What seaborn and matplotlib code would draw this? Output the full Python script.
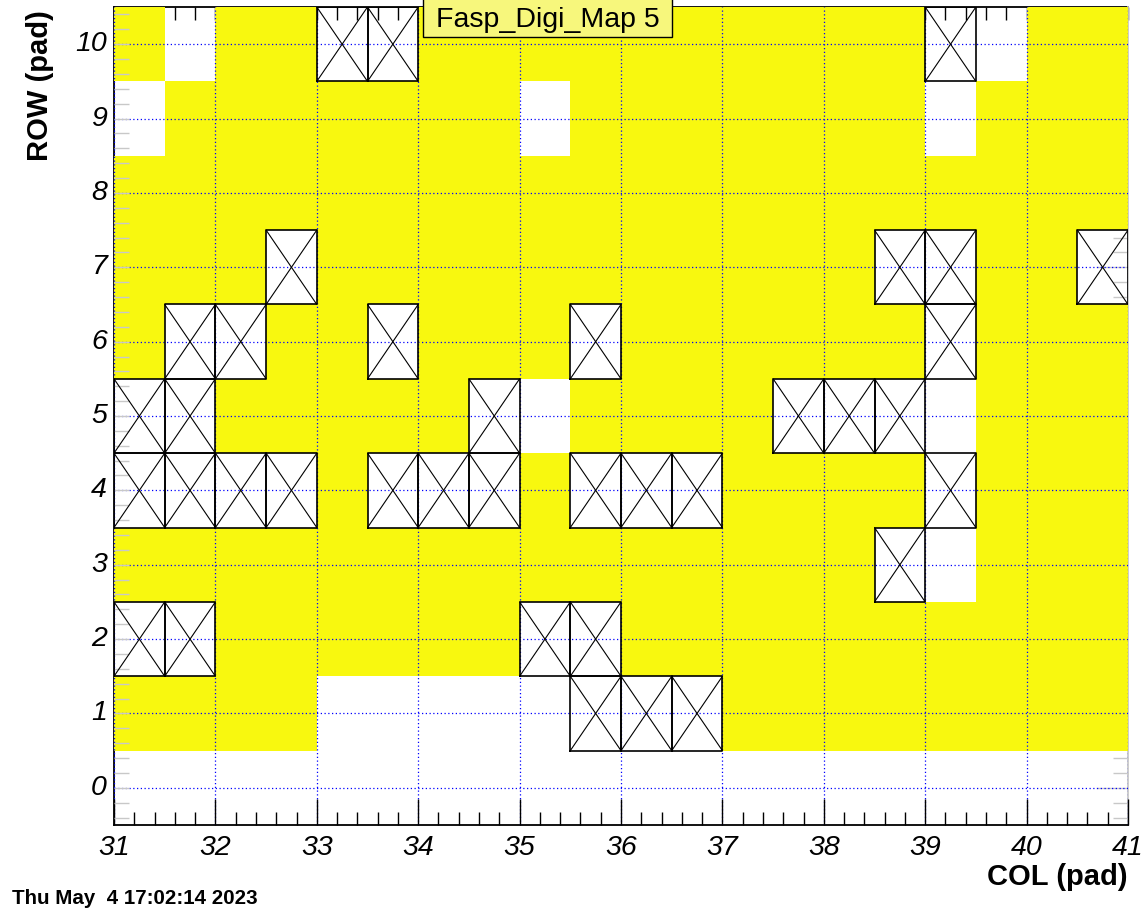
import pandas as pd
import seaborn as sns
import matplotlib
matplotlib.use('Agg')
import matplotlib.pyplot as plt
from matplotlib.colors import ListedColormap
from matplotlib.ticker import FixedLocator
from matplotlib.patches import Rectangle

# pad columns (low edge of each 0.5 wide bin) and pad rows
col_bins = [31.0, 31.5, 32.0, 32.5, 33.0, 33.5, 34.0, 34.5, 35.0, 35.5,
            36.0, 36.5, 37.0, 37.5, 38.0, 38.5, 39.0, 39.5, 40.0, 40.5]
rows = [0, 1, 2, 3, 4, 5, 6, 7, 8, 9, 10]

# 0 = empty, 1 = hit (filled), 2 = masked pad (drawn as box with X)
pad_state = [
    [0, 0, 0, 0, 0, 0, 0, 0, 0, 0, 0, 0, 0, 0, 0, 0, 0, 0, 0, 0],  # row 0
    [1, 1, 1, 1, 0, 0, 0, 0, 0, 2, 2, 2, 1, 1, 1, 1, 1, 1, 1, 1],  # row 1
    [2, 2, 1, 1, 1, 1, 1, 1, 2, 2, 1, 1, 1, 1, 1, 1, 1, 1, 1, 1],  # row 2
    [1, 1, 1, 1, 1, 1, 1, 1, 1, 1, 1, 1, 1, 1, 1, 2, 0, 1, 1, 1],  # row 3
    [2, 2, 2, 2, 1, 2, 2, 2, 1, 2, 2, 2, 1, 1, 1, 1, 2, 1, 1, 1],  # row 4
    [2, 2, 1, 1, 1, 1, 1, 2, 0, 1, 1, 1, 1, 2, 2, 2, 0, 1, 1, 1],  # row 5
    [1, 2, 2, 1, 1, 2, 1, 1, 1, 2, 1, 1, 1, 1, 1, 1, 2, 1, 1, 1],  # row 6
    [1, 1, 1, 2, 1, 1, 1, 1, 1, 1, 1, 1, 1, 1, 1, 2, 2, 1, 1, 2],  # row 7
    [1, 1, 1, 1, 1, 1, 1, 1, 1, 1, 1, 1, 1, 1, 1, 1, 1, 1, 1, 1],  # row 8
    [0, 1, 1, 1, 1, 1, 1, 1, 0, 1, 1, 1, 1, 1, 1, 1, 0, 1, 1, 1],  # row 9
    [1, 0, 1, 1, 2, 2, 1, 1, 1, 1, 1, 1, 1, 1, 1, 1, 2, 0, 1, 1],  # row 10
]

col_ticks = [31, 32, 33, 34, 35, 36, 37, 38, 39, 40, 41]
row_ticks = [0, 1, 2, 3, 4, 5, 6, 7, 8, 9, 10]

YELLOW = '#f8f80f'
GREY = '#c8c8c8'


def col_to_x(v):
    # heatmap cell index space -> one cell is 0.5 pad wide
    return (v - col_bins[0]) / 0.5


def row_to_y(v):
    return v - rows[0] + 0.5


def main():
    sns.set_style('ticks')
    plt.rcParams['font.family'] = ['Liberation Sans', 'DejaVu Sans']
    plt.rcParams['text.color'] = 'black'
    plt.rcParams['xtick.labelcolor'] = 'black'
    plt.rcParams['ytick.labelcolor'] = 'black'

    df = pd.DataFrame(pad_state, index=rows, columns=col_bins)
    hits = df == 1

    fig = plt.figure(figsize=(11.42, 9.17), dpi=100)
    ax = fig.add_axes([114 / 1142, 92 / 917, 1014 / 1142, 818 / 917])

    sns.heatmap(df.where(hits), mask=~hits, cmap=ListedColormap([YELLOW]),
                vmin=0, vmax=2, cbar=False, ax=ax)
    ax.set_xlim(0, len(col_bins))
    ax.set_ylim(0, len(rows))

    # masked pads: open box with a cross
    for ri in range(len(rows)):
        for ci in range(len(col_bins)):
            if pad_state[ri][ci] != 2:
                continue
            x0, x1, y0, y1 = ci, ci + 1, ri, ri + 1
            ax.plot([x0, x1, x1, x0, x0], [y0, y0, y1, y1, y0],
                    color='black', lw=1.2, zorder=4, solid_capstyle='projecting')
            ax.plot([x0, x1], [y0, y1], color='black', lw=0.8, zorder=4)
            ax.plot([x0, x1], [y1, y0], color='black', lw=0.8, zorder=4)

    x_major = [col_to_x(v) for v in col_ticks]
    x_minor = [col_to_x(31 + 0.2 * i) for i in range(51)]
    y_major = [row_to_y(v) for v in row_ticks]
    y_minor = [row_to_y(-0.4 + 0.2 * i) for i in range(55)]

    ax.set_xticks(x_major)
    ax.set_xticklabels([str(v) for v in col_ticks], rotation=0,
                       fontsize=20.5, fontstyle='italic', color='black')
    ax.xaxis.set_minor_locator(FixedLocator(x_minor))
    ax.set_yticks(y_major)
    ax.set_yticklabels([str(v) for v in row_ticks], rotation=0,
                       fontsize=20.5, fontstyle='italic', color='black')
    ax.yaxis.set_minor_locator(FixedLocator(y_minor))

    ax.tick_params(axis='x', which='major', direction='in', length=19, width=1,
                   color='black', bottom=True, top=False, pad=7)
    ax.tick_params(axis='x', which='minor', direction='in', length=9.5, width=1,
                   color='black', bottom=True, top=False)
    ax.tick_params(axis='y', which='both', direction='in', length=11, width=1,
                   color=GREY, left=True, right=False, pad=5)

    ax.set_axisbelow(False)
    ax.grid(True, which='major', color='#0000ff', linestyle=(0, (1, 2)),
            linewidth=0.9)

    for name, sp in ax.spines.items():
        sp.set_visible(True)
        sp.set_color('black')
        sp.set_linewidth(1.3)
    ax.spines['left'].set_zorder(0.5)
    ax.spines['top'].set_visible(False)
    ax.spines['right'].set_visible(False)

    top = ax.secondary_xaxis('top')
    top.set_xticks(x_major)
    top.xaxis.set_minor_locator(FixedLocator(x_minor))
    top.tick_params(which='both', direction='in', length=9.5, width=1,
                    color='black', labeltop=False)
    top.spines['top'].set_color('black')
    top.spines['top'].set_linewidth(1.3)

    right = ax.secondary_yaxis('right')
    right.set_yticks(y_major)
    right.yaxis.set_minor_locator(FixedLocator(y_minor))
    right.tick_params(which='major', direction='in', length=23, width=1,
                      color=GREY, labelright=False)
    right.tick_params(which='minor', direction='in', length=11, width=1,
                      color=GREY)
    right.spines['right'].set_color(GREY)
    right.spines['right'].set_linewidth(1.3)

    ax.set_xlabel('')
    ax.set_ylabel('')
    fig.text(1128 / 1142, 1 - 885 / 917, 'COL (pad)', ha='right', va='baseline',
             fontsize=21, fontweight='bold', color='black')
    fig.text(48 / 1142, 1 - 10 / 917, 'ROW (pad)', rotation=90,
             rotation_mode='anchor', ha='right', va='baseline',
             fontsize=21, fontweight='bold', color='black')

    # title box
    fig.add_artist(Rectangle((423 / 1142, 1 - 37 / 917), 249 / 1142, 0.06,
                             transform=fig.transFigure, facecolor='#f7f77c',
                             edgecolor='black', lw=1, zorder=5))
    fig.text(547.5 / 1142, 1 - 27 / 917, 'Fasp_Digi_Map 5', ha='center',
             va='baseline', fontsize=20.5, zorder=6, color='black')

    fig.text(12 / 1142, 1 - 899 / 917, 'Thu May  4 17:02:14 2023', ha='left',
             va='center', fontsize=14.8, fontweight='bold', color='black')

    fig.savefig('out.png', dpi=100)


if __name__ == '__main__':
    main()
